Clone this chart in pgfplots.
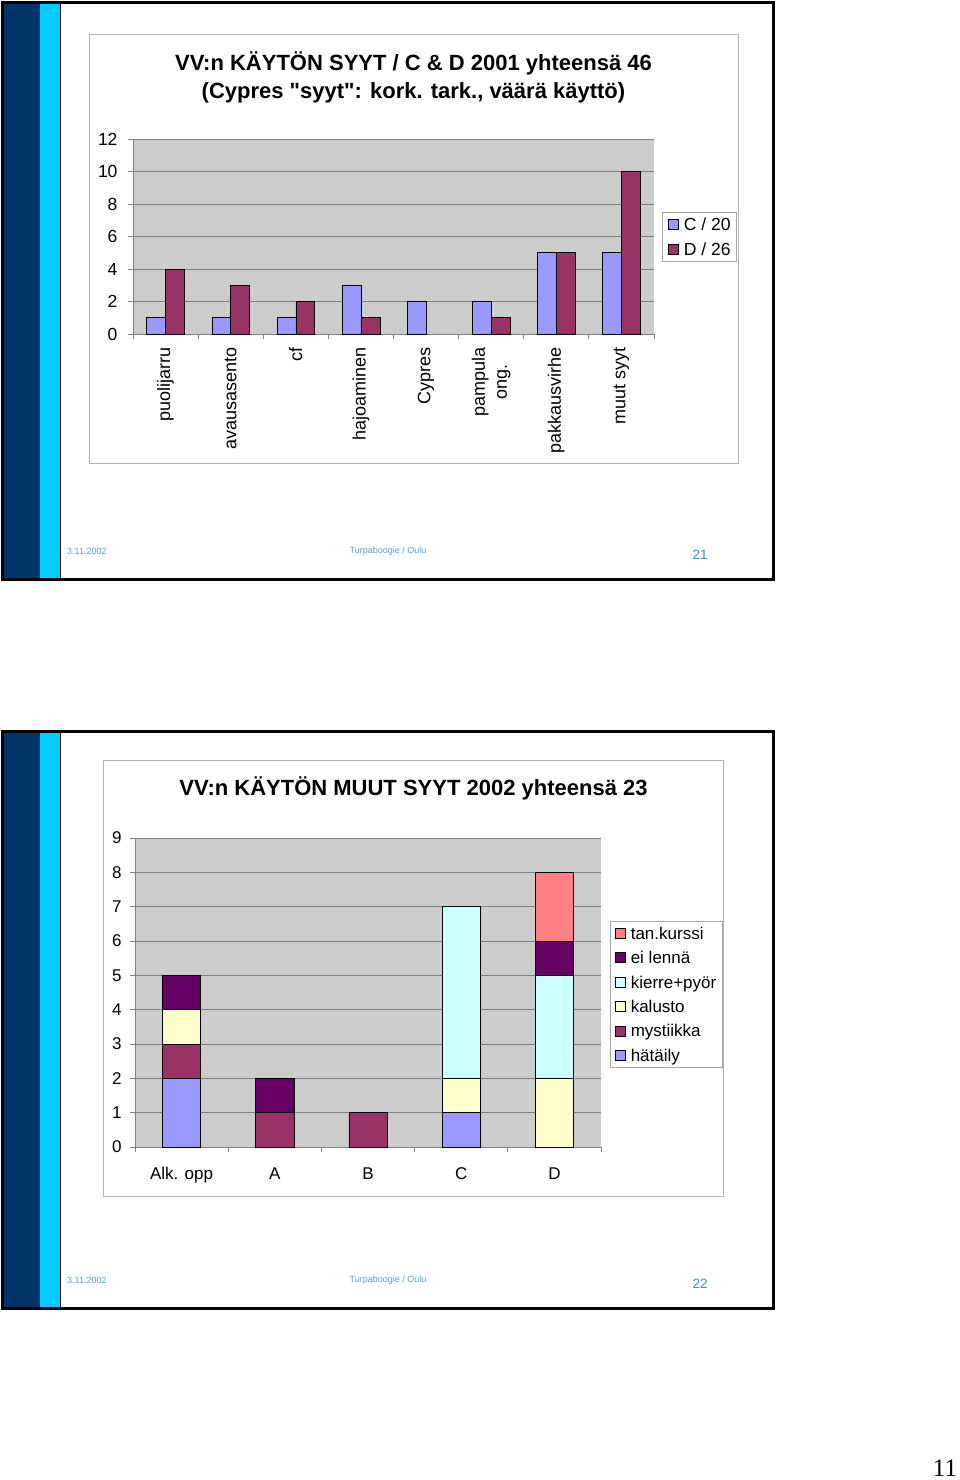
\documentclass[border=0pt]{standalone}
\usepackage{pgfplots}
\pgfplotsset{compat=1.18}
\usepackage{fontspec}
\setmainfont{Liberation Sans}[Ligatures=TeXOff]
\newfontfamily\seriffont{Liberation Serif}
\definecolor{navy}{HTML}{003366}
\definecolor{cyanbar}{HTML}{00CCFF}
\definecolor{plotgray}{HTML}{CCCCCC}
\definecolor{gridgray}{HTML}{808080}
\definecolor{cblue}{HTML}{9999FF}
\definecolor{dplum}{HTML}{993366}
\definecolor{kalusto}{HTML}{FFFFCC}
\definecolor{kierre}{HTML}{CCFFFF}
\definecolor{eilenna}{HTML}{660066}
\definecolor{tankurssi}{HTML}{FF8080}
\definecolor{footblue}{HTML}{5AA0CC}
\definecolor{numblue}{HTML}{3A90C4}
\pgfplotsset{
  sqlegendA/.style={legend image code/.code={\path (0pt,0pt); \draw[##1, line width=0.6pt] (3pt,-5pt) rectangle (13pt,5pt);}},
  sqlegendB/.style={legend image code/.code={\path (0pt,0pt); \draw[##1, line width=0.6pt] (2pt,-5pt) rectangle (12pt,5pt);}},
  /pgf/number format/assume math mode=true,
}
\begin{document}
\begin{tikzpicture}[x=1pt,y=1pt]
\useasboundingbox (0,0) rectangle (960,-1480);
\fill[white] (0,0) rectangle (960,-1480);
% ---------- slide 1 frame
\fill[navy] (2.5,-2.5) rectangle (40,-579.5);
\fill[cyanbar] (40,-2.5) rectangle (60,-579.5);
\draw[black, line width=0.8pt] (60,-2.5) -- (60,-579.5);
\draw[black, line width=3pt] (2.5,-2.5) rectangle (773,-579.5);
\draw[gray!60, line width=1pt] (89,-35) rectangle (738,-463);
\node[font=\bfseries\fontsize{22}{28}\selectfont, align=center] at (413.5,-77)
  {VV:n KÄYTÖN SYYT / C \& D 2001 yhteensä 46\\(Cypres "syyt": kork. tark., väärä käyttö)};
\node[anchor=west, inner sep=0, text=footblue, font=\fontsize{9}{10}\selectfont] at (67,-551) {3.11.2002};
\node[inner sep=0, text=footblue, font=\fontsize{9}{10}\selectfont] at (388,-551) {Turpaboogie / Oulu};
\node[inner sep=0, text=numblue, font=\fontsize{13.5}{15}\selectfont] at (700,-555) {21};
% ---------- slide 2 frame
\fill[navy] (2.5,-731.5) rectangle (40,-1308.5);
\fill[cyanbar] (40,-731.5) rectangle (60,-1308.5);
\draw[black, line width=0.8pt] (60,-731.5) -- (60,-1308.5);
\draw[black, line width=3pt] (2.5,-731.5) rectangle (773,-1308.5);
\draw[gray!60, line width=1pt] (103,-760) rectangle (723,-1196);
\node[font=\bfseries\fontsize{22}{28}\selectfont] at (413.5,-788)
  {VV:n KÄYTÖN MUUT SYYT 2002 yhteensä 23};
\node[anchor=west, inner sep=0, text=footblue, font=\fontsize{9}{10}\selectfont] at (67,-1280) {3.11.2002};
\node[inner sep=0, text=footblue, font=\fontsize{9}{10}\selectfont] at (388,-1280) {Turpaboogie / Oulu};
\node[inner sep=0, text=numblue, font=\fontsize{13.5}{15}\selectfont] at (700,-1284) {22};
% page number
\node[inner sep=0, font=\seriffont\fontsize{25}{25}\selectfont] at (945,-1468) {11};

% ---------- chart 1
\begin{axis}[
  at={(133pt,-334pt)}, anchor=south west,
  scale only axis, width=521pt, height=195pt,
  ybar=0pt, bar width=0.29,
  xmin=-0.5, xmax=7.5, ymin=0, ymax=12,
  ytick={0,2,...,12},
  xtick={-0.5,0.5,...,7.5}, xticklabels={},
  extra x ticks={0,1,...,7},
  extra x tick labels={puolijarru,avausasento,cf,hajoaminen,Cypres,{pampula\\ong.},pakkausvirhe,muut syyt},
  extra x tick style={major tick length=0pt, grid=none,
     xticklabel style={rotate=90, anchor=east, align=center, font=\fontsize{18}{22}\selectfont, xshift=-10pt}},
  axis x line*=bottom, axis y line*=left,
  axis line style={-, gridgray, line width=0.8pt},
  tick align=outside, major tick length=5pt,
  tick style={gridgray, line width=0.8pt},
  ymajorgrids, major grid style={gridgray, line width=0.8pt},
  axis background/.style={fill=plotgray},
  yticklabel style={font=\fontsize{17.5}{20}\selectfont, xshift=-7pt},
  sqlegendA,
  legend style={at={(1.0154,0.6256)}, anchor=north west, draw=gray!70, fill=white,
     font=\fontsize{17.5}{20}\selectfont, inner xsep=3pt, inner ysep=2pt, row sep=5pt,
     /tikz/every odd column/.append style={column sep=2pt},
     nodes={inner xsep=3pt, inner ysep=2pt, text height=14pt, text depth=2pt}},
  legend cell align=left,
]
\addplot[fill=cblue, draw=black, line width=0.6pt] coordinates {(0,1) (1,1) (2,1) (3,3) (4,2) (5,2) (6,5) (7,5)};
\addplot[fill=dplum, draw=black, line width=0.6pt] coordinates {(0,4) (1,3) (2,2) (3,1) (5,1) (6,5) (7,10)};
\legend{C / 20, D / 26}
\end{axis}

% ---------- chart 2
\begin{axis}[
  at={(135pt,-1147pt)}, anchor=south west,
  scale only axis, width=466pt, height=309pt,
  ybar stacked, bar width=0.41,
  xmin=-0.5, xmax=4.5, ymin=0, ymax=9,
  ytick={0,1,...,9},
  xtick={-0.5,0.5,...,4.5}, xticklabels={},
  extra x ticks={0,1,...,4},
  extra x tick labels={Alk. opp,A,B,C,D},
  extra x tick style={major tick length=0pt, grid=none,
     xticklabel style={font=\fontsize{17}{20}\selectfont, yshift=-17pt}},
  axis x line*=bottom, axis y line*=left,
  axis line style={-, gridgray, line width=0.8pt},
  tick align=outside, major tick length=5pt,
  tick style={gridgray, line width=0.8pt},
  ymajorgrids, major grid style={gridgray, line width=0.8pt},
  axis background/.style={fill=plotgray},
  yticklabel style={font=\fontsize{17}{20}\selectfont, xshift=-5pt},
  sqlegendB, reverse legend,
  legend style={at={(1.0193,0.7314)}, anchor=north west, draw=gray!70, fill=white,
     font=\fontsize{17}{20}\selectfont, inner xsep=3pt, inner ysep=2pt, row sep=4.4pt,
     /tikz/every odd column/.append style={column sep=2pt},
     nodes={inner xsep=3pt, inner ysep=2pt, text height=14pt, text depth=2pt}},
  legend cell align=left,
]
\addplot[fill=cblue, draw=black, line width=0.6pt] coordinates {(0,2) (1,0) (2,0) (3,1) (4,0)};
\addplot[fill=dplum, draw=black, line width=0.6pt] coordinates {(0,1) (1,1) (2,1) (3,0) (4,0)};
\addplot[fill=kalusto, draw=black, line width=0.6pt] coordinates {(0,1) (1,0) (2,0) (3,1) (4,2)};
\addplot[fill=kierre, draw=black, line width=0.6pt] coordinates {(0,0) (1,0) (2,0) (3,5) (4,3)};
\addplot[fill=eilenna, draw=black, line width=0.6pt] coordinates {(0,1) (1,1) (2,0) (3,0) (4,1)};
\addplot[fill=tankurssi, draw=black, line width=0.6pt] coordinates {(0,0) (1,0) (2,0) (3,0) (4,2)};
\legend{hätäily, mystiikka, kalusto, kierre+pyör, ei lennä, tan.kurssi}
\end{axis}
\end{tikzpicture}
\end{document}
